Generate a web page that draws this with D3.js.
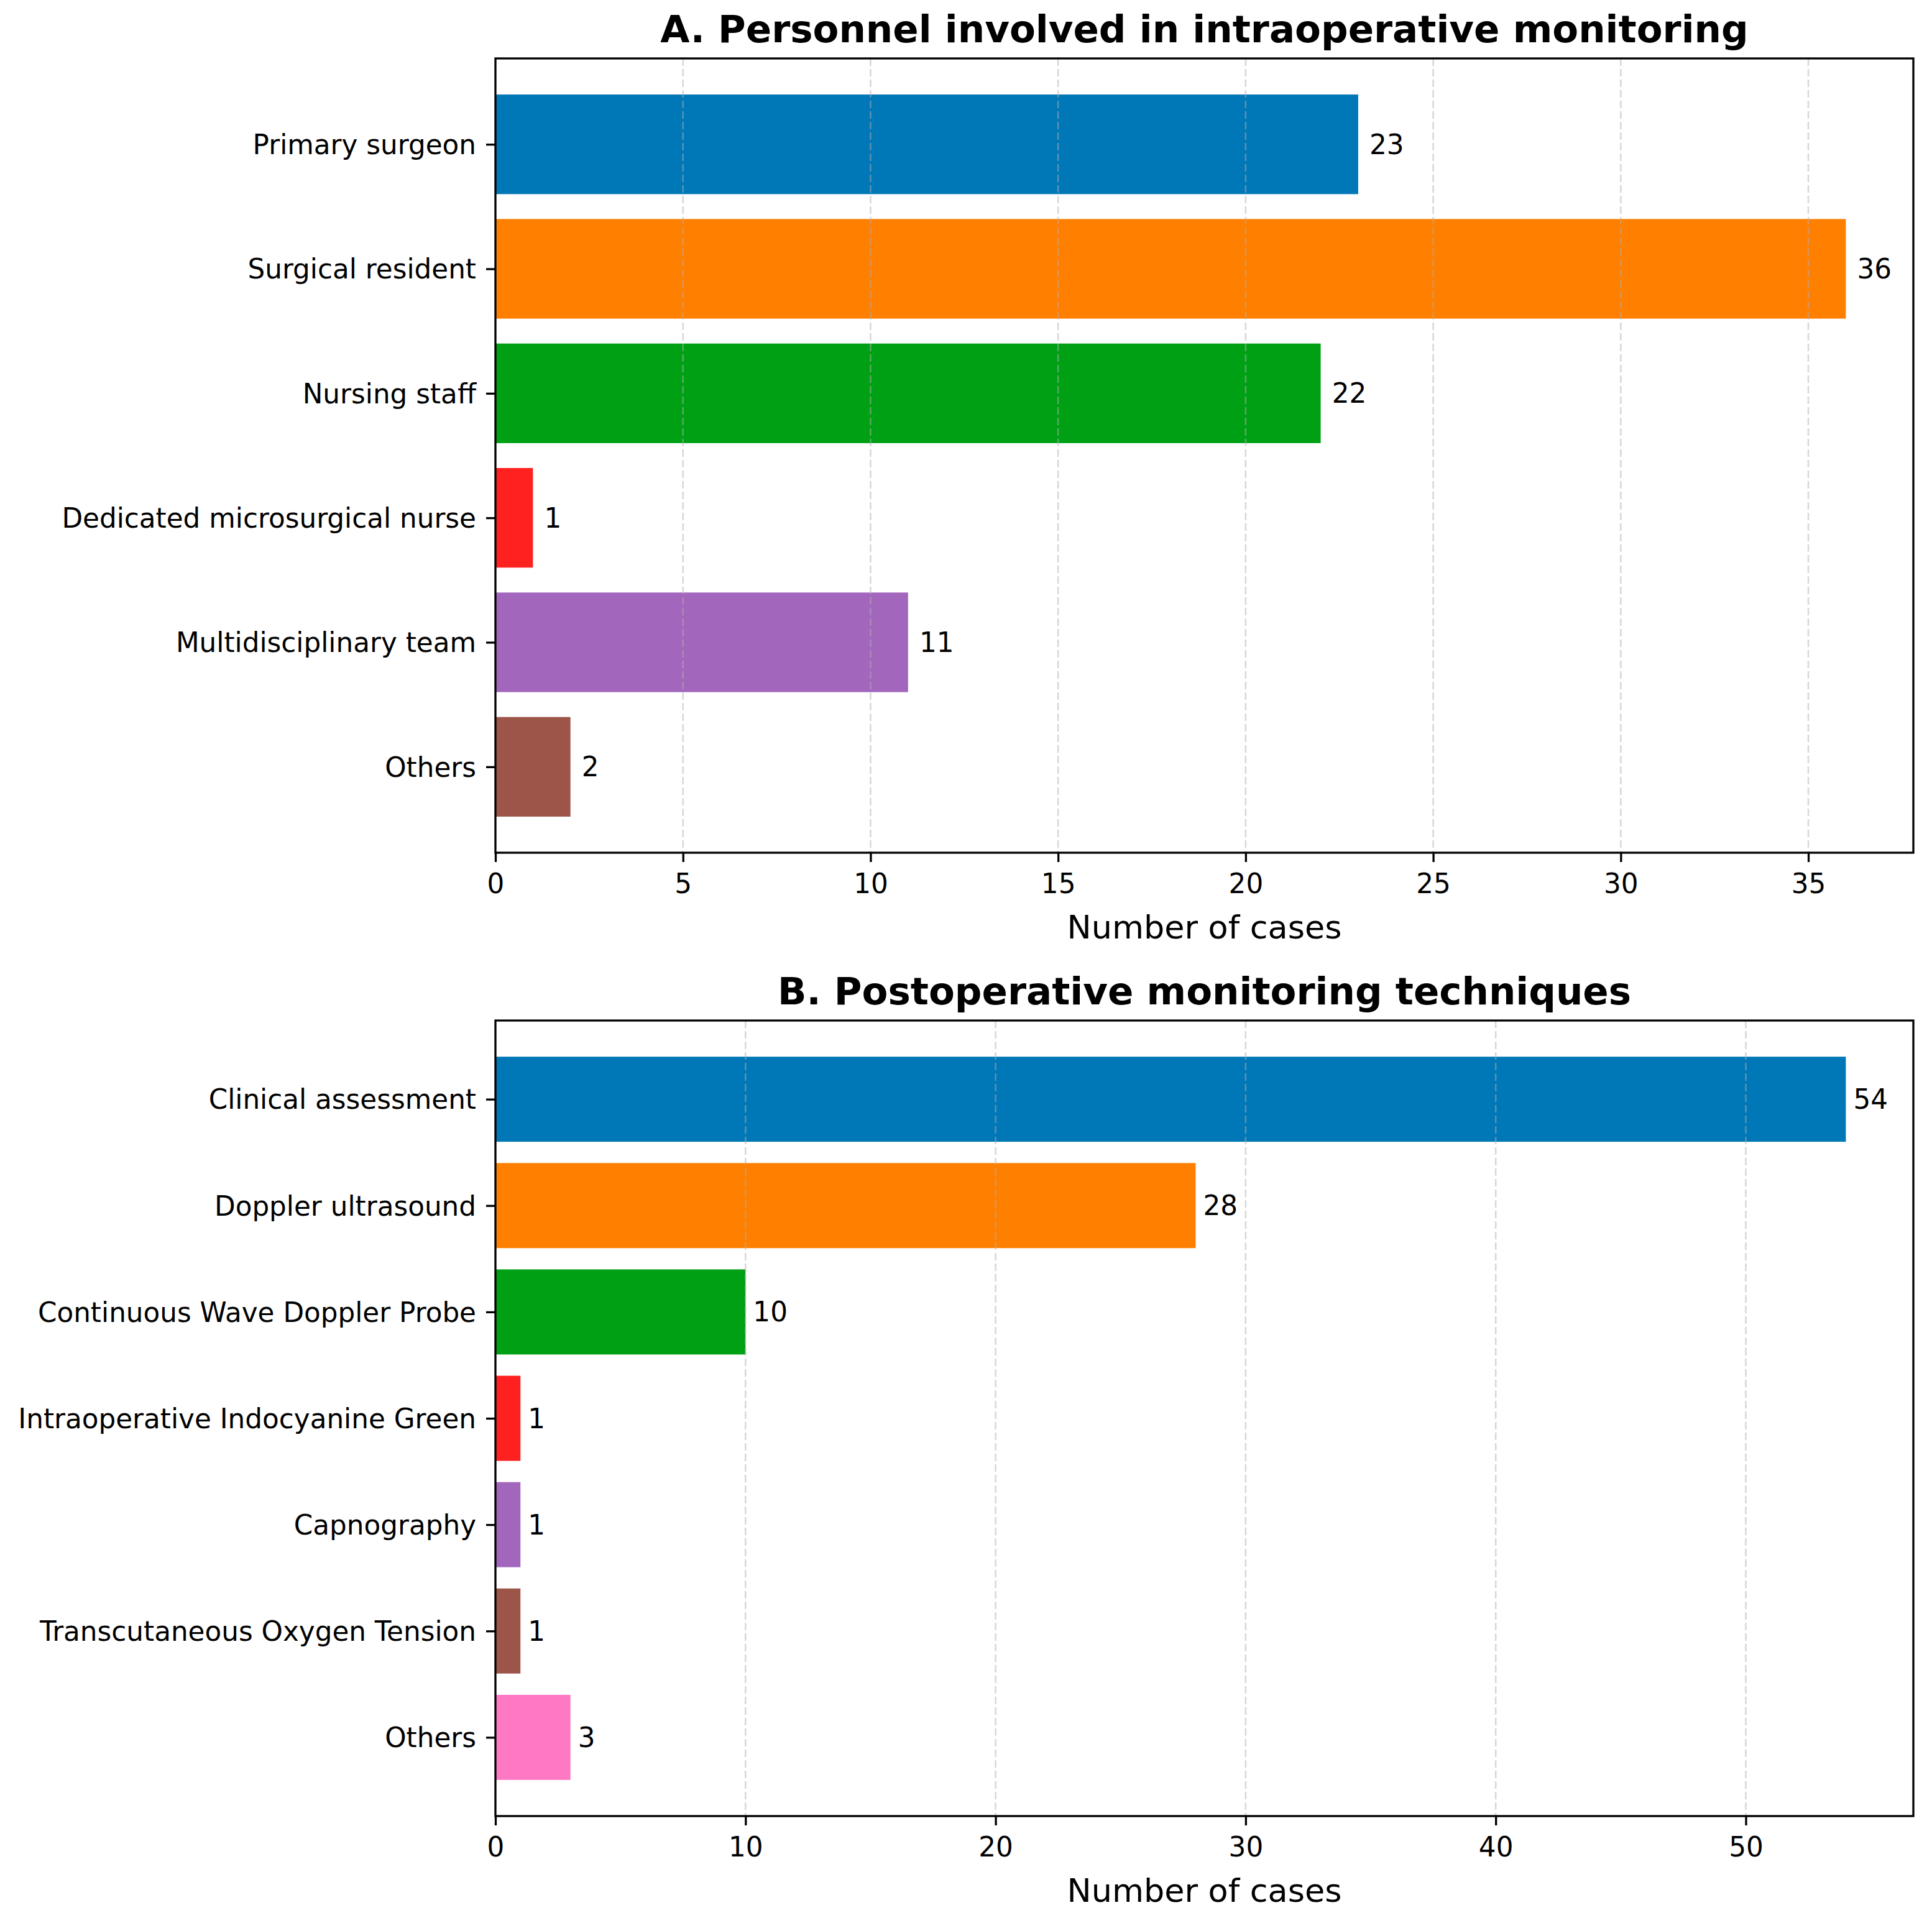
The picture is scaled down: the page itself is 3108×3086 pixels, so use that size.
<!DOCTYPE html>
<html>
<head>
<meta charset="utf-8">
<script src="https://cdn.jsdelivr.net/npm/d3@7"></script>
<style>
    body { margin: 0; background: #fff; }
    #view { width: 3108px; height: 3086px; }
    text { font-family: "DejaVu Sans", sans-serif; fill: #000; }
</style>
</head>
<body>
<div id="view"></div>
<script>
// panel A
const personnelCats = ["Primary surgeon", "Surgical resident", "Nursing staff",
    "Dedicated microsurgical nurse", "Multidisciplinary team", "Others"];
const personnelVals = [23, 36, 22, 1, 11, 2];
const personnelTicks = [0, 5, 10, 15, 20, 25, 30, 35];

// panel B
const techniqueCats = ["Clinical assessment", "Doppler ultrasound", "Continuous Wave Doppler Probe",
    "Intraoperative Indocyanine Green", "Capnography", "Transcutaneous Oxygen Tension", "Others"];
const techniqueVals = [54, 28, 10, 1, 1, 1, 3];
const techniqueTicks = [0, 10, 20, 30, 40, 50];

const barColors = ["#0077b6", "#ff7f00", "#00a015", "#ff2020", "#a366bd", "#9c5548", "#ff78c4"];

var svg;
const W = 3108, H = 3086;
const tickFont = "43.7px";

function drawPanel(top, bottom, title, cats, vals, ticks) {
    const left = 797, right = 3078;
    const g = svg.append("g");

    // matplotlib style limits: 5% margin on x max, bar extents + 5% on y
    const x = d3.scaleLinear()
        .domain([0, d3.max(vals) * 1.05])
        .range([left, right]);

    const n = cats.length;
    const m = 0.05 * (n - 1 + 0.8);
    const y = d3.scaleLinear()
        .domain([-0.4 - m, n - 1 + 0.4 + m])
        .range([top, bottom]);

    // bars
    g.selectAll(".bar")
        .data(vals)
        .enter().append("rect")
        .attr("class", "bar")
        .attr("x", x(0))
        .attr("y", (d, i) => y(i - 0.4))
        .attr("width", d => x(d) - x(0))
        .attr("height", (d, i) => y(i + 0.4) - y(i - 0.4))
        .attr("fill", (d, i) => barColors[i]);

    // dashed grid on top of bars
    g.selectAll(".grid")
        .data(ticks)
        .enter().append("line")
        .attr("class", "grid")
        .attr("x1", d => x(d)).attr("x2", d => x(d))
        .attr("y1", top).attr("y2", bottom)
        .attr("stroke", "#b0b0b0")
        .attr("stroke-opacity", 0.5)
        .attr("stroke-width", 2.5)
        .attr("stroke-dasharray", "12,5");

    // value labels
    g.selectAll(".val")
        .data(vals)
        .enter().append("text")
        .attr("class", "val")
        .attr("x", d => x(d + 0.3))
        .attr("y", (d, i) => y(i))
        .attr("dominant-baseline", "central")
        .attr("font-size", tickFont)
        .text(d => d);

    // axes
    const xAxis = g.append("g")
        .attr("transform", `translate(0,${bottom})`)
        .call(d3.axisBottom(x).tickValues(ticks).tickSize(15).tickPadding(19).tickSizeOuter(0));
    xAxis.selectAll("text").attr("font-size", tickFont).attr("font-family", "DejaVu Sans");

    const yAxis = g.append("g")
        .attr("transform", `translate(${left},0)`)
        .call(d3.axisLeft(y).tickValues(d3.range(n)).tickFormat(i => cats[i])
            .tickSize(15).tickPadding(16).tickSizeOuter(0));
    yAxis.selectAll("text").attr("font-size", tickFont).attr("font-family", "DejaVu Sans")
        .attr("dy", "0.35em");

    [xAxis, yAxis].forEach(a => {
        a.select(".domain").remove();
        a.selectAll(".tick line").attr("stroke", "#000").attr("stroke-width", 3.3);
    });

    // frame
    g.append("rect")
        .attr("x", left).attr("y", top)
        .attr("width", right - left).attr("height", bottom - top)
        .attr("fill", "none")
        .attr("stroke", "#000")
        .attr("stroke-width", 3.3);

    g.append("text")
        .attr("x", (left + right) / 2)
        .attr("y", bottom + 138)
        .attr("text-anchor", "middle")
        .attr("font-size", "52.4px")
        .text("Number of cases");

    g.append("text")
        .attr("x", (left + right) / 2)
        .attr("y", top - 26)
        .attr("text-anchor", "middle")
        .attr("font-size", "61px")
        .attr("font-weight", "bold")
        .text(title);
}

document.addEventListener("DOMContentLoaded", () => {
    svg = d3.select("#view").append("svg")
        .attr("width", W)
        .attr("height", H);

    drawPanel(94, 1372, "A. Personnel involved in intraoperative monitoring",
        personnelCats, personnelVals, personnelTicks);
    drawPanel(1642, 2922, "B. Postoperative monitoring techniques",
        techniqueCats, techniqueVals, techniqueTicks);
});
</script>
</body>
</html>
